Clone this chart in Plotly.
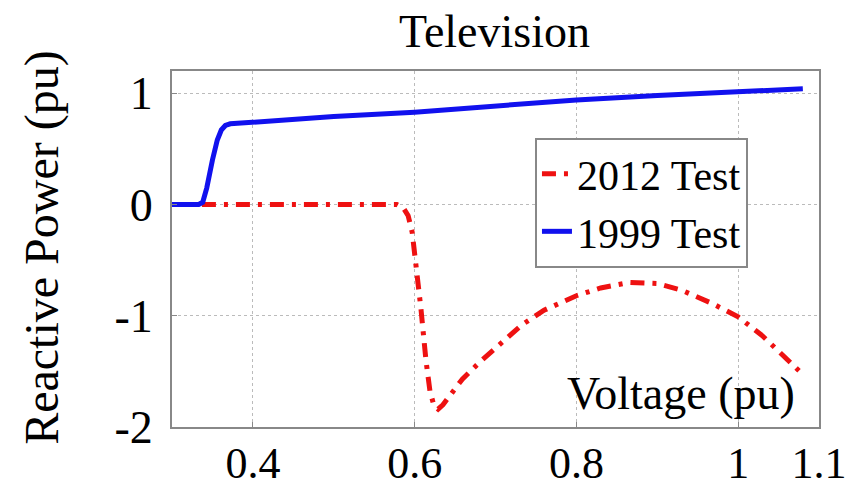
import plotly.graph_objects as go

# 1999 Test (blue, solid)
v1999 = [0.30, 0.333, 0.338, 0.343, 0.35, 0.356, 0.361, 0.366, 0.372, 0.40, 0.50, 0.60, 0.70, 0.80, 0.90, 1.00, 1.08]
q1999 = [0.0, 0.0, 0.02, 0.15, 0.40, 0.58, 0.67, 0.71, 0.725, 0.74, 0.79, 0.83, 0.89, 0.94, 0.98, 1.01, 1.04]

# 2012 Test (red, dash-dot)
v2012 = [0.337, 0.45, 0.55, 0.578, 0.586, 0.592, 0.597, 0.602, 0.608, 0.614, 0.619, 0.624, 0.629,
         0.635, 0.645, 0.659, 0.68, 0.70, 0.733, 0.76, 0.80, 0.83, 0.866, 0.90, 0.93, 0.968,
         1.00, 1.03, 1.051, 1.079]
q2012 = [0.0, 0.0, 0.0, 0.0, -0.03, -0.10, -0.25, -0.55, -0.95, -1.40, -1.68, -1.81, -1.84,
         -1.80, -1.70, -1.57, -1.42, -1.29, -1.08, -0.95, -0.82, -0.75, -0.70, -0.71, -0.77, -0.89,
         -1.01, -1.18, -1.32, -1.52]

x_ticks = [0.4, 0.6, 0.8, 1.0, 1.1]
x_tick_labels = ["0.4", "0.6", "0.8", "1", "1.1"]
y_ticks = [-2, -1, 0, 1]
y_tick_labels = ["-2", "-1", "0", "1"]

serif = "'Times New Roman', 'Liberation Serif', 'DejaVu Serif', serif"

fig = go.Figure()
fig.add_trace(go.Scatter(x=v2012, y=q2012, mode="lines", name="2012 Test",
                         line=dict(color="#ee1111", width=5, dash="14px,8px,4px,8px")))
fig.add_trace(go.Scatter(x=v1999, y=q1999, mode="lines", name="1999 Test",
                         line=dict(color="#1111ee", width=5)))

fig.update_layout(
    width=864, height=489,
    margin=dict(l=172, r=45, t=71, b=62),
    paper_bgcolor="white", plot_bgcolor="white",
    font=dict(family=serif, color="black", size=44),
    showlegend=True,
    legend=dict(x=0.561, y=0.812, xanchor="left", yanchor="top",
                bgcolor="white", bordercolor="#888888", borderwidth=2,
                font=dict(size=42, family=serif), tracegroupgap=0),
    annotations=[
        dict(text="Television", x=0.498, y=1.112, xref="paper", yref="paper",
             showarrow=False, xanchor="center", yanchor="middle", font=dict(size=46)),
        dict(text="Reactive Power (pu)", x=-0.201, y=0.506, xref="paper", yref="paper",
             showarrow=False, textangle=-90, xanchor="center", yanchor="middle",
             font=dict(size=48)),
        dict(text="Voltage (pu)", x=0.966, y=0.095, xref="paper", yref="paper",
             showarrow=False, xanchor="right", yanchor="middle", font=dict(size=46)),
    ],
)
fig.update_xaxes(range=[0.3, 1.1], tickvals=x_ticks, ticktext=x_tick_labels,
                 showgrid=True, gridcolor="#bbbbbb", griddash="dot", gridwidth=1,
                 showline=True, linecolor="#888888", linewidth=2, mirror=True,
                 ticks="inside", ticklen=5, tickcolor="#888888", automargin=False,
                 ticklabelstandoff=-4,
                 zeroline=False, tickfont=dict(size=44))
fig.update_yaxes(range=[-2, 1.2], tickvals=y_ticks, ticktext=y_tick_labels,
                 showgrid=True, gridcolor="#bbbbbb", griddash="dot", gridwidth=1,
                 showline=True, linecolor="#888888", linewidth=2, mirror=True,
                 ticks="inside", ticklen=5, tickcolor="#888888", automargin=False,
                 ticklabelstandoff=8,
                 zeroline=False, tickfont=dict(size=46))

fig.write_html("out.html")
